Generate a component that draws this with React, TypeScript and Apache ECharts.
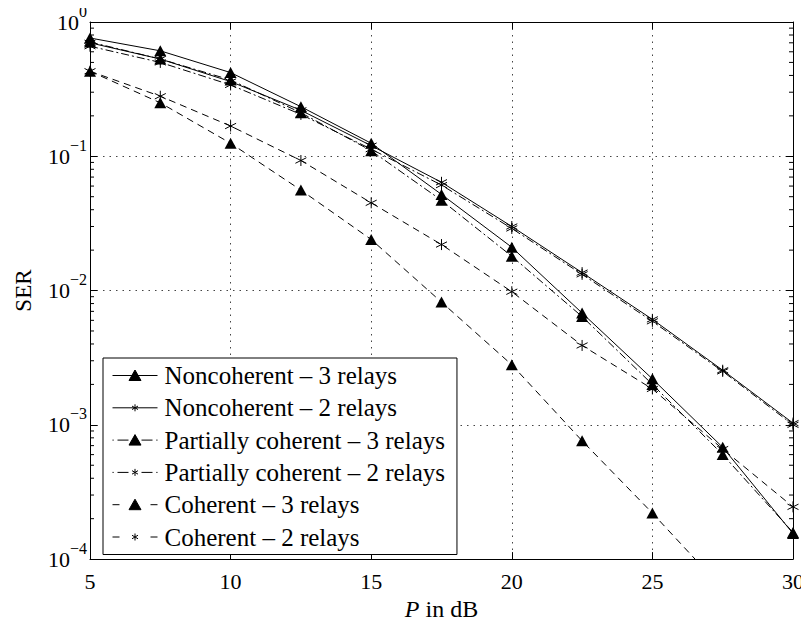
import React, { useEffect, useRef } from "react";
import * as echarts from "echarts";

const snr = [5, 7.5, 10, 12.5, 15, 17.5, 20, 22.5, 25, 27.5, 30];

const nonCoh3 = [0.76, 0.61, 0.42, 0.234, 0.125, 0.052, 0.021, 0.0068, 0.0022, 0.00068, 0.000155];
const nonCoh2 = [0.7, 0.53, 0.36, 0.22, 0.12, 0.064, 0.03, 0.0136, 0.0061, 0.00255, 0.00103];
const partCoh3 = [0.71, 0.53, 0.37, 0.211, 0.11, 0.047, 0.018, 0.0064, 0.002, 0.0006, 0.000158];
const partCoh2 = [0.66, 0.5, 0.34, 0.205, 0.113, 0.061, 0.029, 0.0132, 0.0059, 0.0025, 0.001];
const coh3 = [0.43, 0.25, 0.125, 0.056, 0.024, 0.0082, 0.0028, 0.00076, 0.00022, 0.00006, 0.000013];
const coh2 = [0.43, 0.28, 0.168, 0.093, 0.045, 0.022, 0.0098, 0.0039, 0.00185, 0.00066, 0.000245];

const seriesNames = [
  "Noncoherent – 3 relays",
  "Noncoherent – 2 relays",
  "Partially coherent – 3 relays",
  "Partially coherent – 2 relays",
  "Coherent – 3 relays",
  "Coherent – 2 relays",
];

const xTicks = [5, 10, 15, 20, 25, 30];

const FONT = "'Liberation Serif', 'Times New Roman', serif";
const STAR = "path://M0,-6L0,6M-5.2,-3L5.2,3M-5.2,3L5.2,-3";

// legend icon pieces (45 x 15 box)
const BOX = "M0,0M45,15";
const TRI = "M22.5,2L28.5,12.5L16.5,12.5Z";
const STR = "M22.5,4L22.5,11M19.5,5.75L25.5,9.25M19.5,9.25L25.5,5.75";
const SOLID = "M0,7.5L45,7.5";
const DASHDOT = "M0,7.5L1.2,7.5M5,7.5L16,7.5M29,7.5L40,7.5M43.8,7.5L45,7.5";
const DASHED = "M0,7.5L7,7.5M38,7.5L45,7.5";

export default function App() {
  const ref = useRef<HTMLDivElement>(null);
  useEffect(() => {
    if (!ref.current) return;
    const chart = echarts.init(ref.current, undefined, { renderer: "svg" });

    const minorVals: number[][] = [];
    for (let k = -4; k <= -1; k++) {
      for (let m = 2; m <= 9; m++) minorVals.push([5, m * Math.pow(10, k)]);
    }

    const mk = (
      name: string,
      vals: number[],
      marker: "tri" | "star",
      dash: any
    ) => ({
      name,
      type: "line",
      data: snr.map((x, i) => [x, vals[i]]),
      symbol: marker === "tri" ? "triangle" : STAR,
      symbolSize: marker === "tri" ? [12, 11] : 11,
      showSymbol: true,
      clip: true,
      lineStyle: { color: "#000", width: 1, type: dash },
      itemStyle: { color: "#000", borderColor: "#000", borderWidth: marker === "tri" ? 0 : 1 },
      emphasis: { disabled: true },
      z: 3,
    });

    const icons = [
      BOX + SOLID + TRI,
      BOX + SOLID + STR,
      BOX + DASHDOT + TRI,
      BOX + DASHDOT + STR,
      BOX + DASHED + TRI,
      BOX + DASHED + STR,
    ];

    const supFmt = (v: number) => {
      const e = Math.round(Math.log10(v));
      const es = e < 0 ? "\u2212" + String(-e) : String(e);
      return "{b|10}{e|" + es + "}";
    };

    const option: any = {
      animation: false,
      grid: { left: 90, right: 16, top: 22, bottom: 58, containLabel: false },
      xAxis: [
        {
          type: "value",
          min: 5,
          max: 30,
          interval: 5,
          position: "bottom",
          axisLine: { show: true, lineStyle: { color: "#000", width: 1 } },
          axisTick: { show: true, inside: true, length: 7, lineStyle: { color: "#000" } },
          axisLabel: {
            fontFamily: FONT,
            fontSize: 22,
            color: "#000",
            margin: 11,
            formatter: (v: number) => (xTicks.indexOf(v) >= 0 ? String(v) : ""),
          },
          splitLine: { show: true, lineStyle: { color: "#444", type: [1.5, 5], width: 1 } },
          name: "{i|P} in dB",
          nameLocation: "middle",
          nameGap: 32,
          nameTextStyle: {
            fontFamily: FONT,
            fontSize: 24,
            color: "#000",
            rich: { i: { fontFamily: FONT, fontSize: 24, fontStyle: "italic", color: "#000" } },
          },
        },
        {
          type: "value",
          min: 5,
          max: 30,
          interval: 5,
          position: "top",
          axisLine: { show: true, lineStyle: { color: "#000", width: 1 } },
          axisTick: { show: true, inside: true, length: 7, lineStyle: { color: "#000" } },
          axisLabel: { show: false },
          splitLine: { show: false },
        },
      ],
      yAxis: [
        {
          type: "log",
          logBase: 10,
          min: 0.0001,
          max: 1,
          position: "left",
          axisLine: { show: true, lineStyle: { color: "#000", width: 1 } },
          axisTick: { show: true, inside: true, length: 7, lineStyle: { color: "#000" } },
          axisLabel: {
            color: "#000",
            margin: 3,
            formatter: supFmt,
            rich: {
              b: { fontFamily: FONT, fontSize: 22, color: "#000" },
              e: { fontFamily: FONT, fontSize: 16, color: "#000", padding: [0, 0, 22, 0] },
            },
          },
          splitLine: { show: true, lineStyle: { color: "#444", type: [1.5, 5], width: 1 } },
          name: "SER",
          nameLocation: "middle",
          nameGap: 55,
          nameTextStyle: { fontFamily: FONT, fontSize: 23, color: "#000" },
        },
        {
          type: "log",
          logBase: 10,
          min: 0.0001,
          max: 1,
          position: "right",
          axisLine: { show: true, lineStyle: { color: "#000", width: 1 } },
          axisTick: { show: true, inside: true, length: 7, lineStyle: { color: "#000" } },
          axisLabel: { show: false },
          splitLine: { show: false },
        },
      ],
      legend: {
        show: true,
        data: seriesNames.map((n, i) => ({
          name: n,
          icon: "path://" + icons[i],
          itemStyle: { color: "#000", borderColor: "#000", borderWidth: 1 },
        })),
        orient: "vertical",
        left: 103,
        top: 358,
        padding: [5, 12, 5, 9],
        itemGap: 7.3,
        itemWidth: 45,
        itemHeight: 15,
        symbolKeepAspect: false,
        backgroundColor: "#fff",
        borderColor: "#000",
        borderWidth: 1,
        borderRadius: 0,
        selectedMode: false,
        textStyle: { fontFamily: FONT, fontSize: 25, color: "#000", padding: [0, 0, 0, 2] },
        z: 10,
      },
      series: [
        mk(seriesNames[0], nonCoh3, "tri", "solid"),
        mk(seriesNames[1], nonCoh2, "star", "solid"),
        mk(seriesNames[2], partCoh3, "tri", [8, 3, 2, 3]),
        mk(seriesNames[3], partCoh2, "star", [8, 3, 2, 3]),
        mk(seriesNames[4], coh3, "tri", [7, 5]),
        mk(seriesNames[5], coh2, "star", [7, 5]),
        {
          name: "minorTicks",
          type: "custom",
          data: minorVals,
          encode: { x: 0, y: 1 },
          clip: false,
          silent: true,
          z: 4,
          renderItem: (params: any, api: any) => {
            const v = api.value(1);
            const pL = api.coord([5, v]);
            const pR = api.coord([30, v]);
            return {
              type: "group",
              children: [
                {
                  type: "line",
                  shape: { x1: pL[0], y1: pL[1], x2: pL[0] + 4, y2: pL[1] },
                  style: { stroke: "#000", lineWidth: 1 },
                },
                {
                  type: "line",
                  shape: { x1: pR[0] - 4, y1: pR[1], x2: pR[0], y2: pR[1] },
                  style: { stroke: "#000", lineWidth: 1 },
                },
              ],
            };
          },
        },
      ],
    };

    chart.setOption(option);
    return () => chart.dispose();
  }, []);

  return <div ref={ref} style={{ width: 809, height: 626, margin: -8 }} />;
}
